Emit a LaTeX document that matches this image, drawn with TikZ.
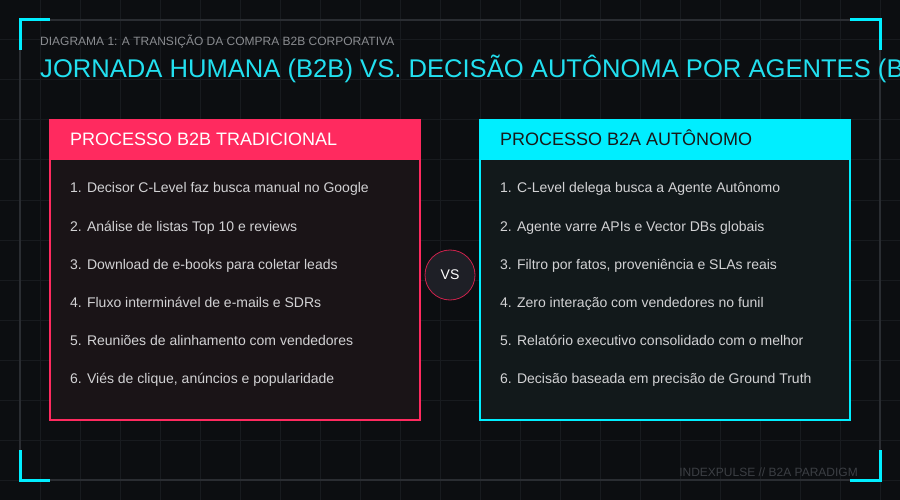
\documentclass[tikz,border=0pt]{standalone}
\usepackage{fontspec}
\setmainfont{Liberation Sans}
\usetikzlibrary{positioning}
\definecolor{bgdark}{HTML}{0C0E11}
\definecolor{gridgray}{HTML}{181B1F}
\definecolor{framegray}{HTML}{2A2D32}
\definecolor{neoncyan}{HTML}{00EEFF}
\definecolor{titlecyan}{HTML}{22E0F0}
\definecolor{neonpink}{HTML}{FF2A5F}
\definecolor{pinkbody}{HTML}{1A1417}
\definecolor{cyanbody}{HTML}{12191B}
\definecolor{itemgray}{HTML}{D2D2D4}
\definecolor{subgray}{HTML}{8A8C90}
\definecolor{footgray}{HTML}{3C3F44}
\definecolor{vsfill}{HTML}{1E1F26}

\begin{document}
\begin{tikzpicture}
[x=1pt,y=-1pt,
 item/.style={anchor=base west,inner sep=0pt,text=itemgray,font=\fontsize{14}{16}\selectfont},
 bodybox/.style={rectangle,minimum width=370pt,minimum height=300pt,line width=2pt,inner sep=0pt},
 headbox/.style={rectangle,minimum width=370pt,minimum height=40pt,inner sep=0pt},
 headtext/.style={anchor=base west,inner sep=0pt,font=\fontsize{18}{20}\selectfont},
 bracket/.style={neoncyan,line width=3pt}]
\useasboundingbox (0,0) rectangle (900,500);
\fill[bgdark] (0,0) rectangle (900,500);

% grid
\foreach \gx in {40,80,...,880} \draw[gridgray,line width=1pt] (\gx,0) -- (\gx,500);
\foreach \gy in {40,80,...,480} \draw[gridgray,line width=1pt] (0,\gy) -- (900,\gy);

% frame and corners
\draw[framegray,line width=1.2pt] (20,20) rectangle (880,480);
\draw[bracket] (20,50) -- (20,20) -- (50,20);
\draw[bracket] (850,20) -- (880,20) -- (880,50);
\draw[bracket] (20,450) -- (20,480) -- (50,480);
\draw[bracket] (850,480) -- (880,480) -- (880,450);

% titles
\node[anchor=base west,inner sep=0pt,text=subgray,font=\fontsize{12}{14}\selectfont] (subtitle) at (40,46) {DIAGRAMA 1: A TRANSIÇÃO DA COMPRA B2B CORPORATIVA};
\node[anchor=base west,inner sep=0pt,text=titlecyan,font=\fontsize{25.6}{28}\selectfont] (title) at (40,78) {JORNADA HUMANA (B2B) VS. DECISÃO AUTÔNOMA POR AGENTES (B2A)};

% left box
\node[bodybox,fill=pinkbody,draw=neonpink] (tradbox) at (235,270) {};
\node[headbox,fill=neonpink] (tradhead) at (235,140) {};
\node[headtext,text=white] (tradtitle) at (70,146) {PROCESSO B2B TRADICIONAL};
\node[item] (l1) at (70,193) {1. Decisor C-Level faz busca manual no Google};
\node[item] (l2) at (70,231) {2. Análise de listas Top 10 e reviews};
\node[item] (l3) at (70,269) {3. Download de e-books para coletar leads};
\node[item] (l4) at (70,307) {4. Fluxo interminável de e-mails e SDRs};
\node[item] (l5) at (70,345) {5. Reuniões de alinhamento com vendedores};
\node[item] (l6) at (70,383) {6. Viés de clique, anúncios e popularidade};

% right box
\node[bodybox,fill=cyanbody,draw=neoncyan] (autobox) at (665,270) {};
\node[headbox,fill=neoncyan] (autohead) at (665,140) {};
\node[headtext,text=black!90] (autotitle) at (500,146) {PROCESSO B2A AUTÔNOMO};
\node[item] (r1) at (500,193) {1. C-Level delega busca a Agente Autônomo};
\node[item] (r2) at (500,231) {2. Agente varre APIs e Vector DBs globais};
\node[item] (r3) at (500,269) {3. Filtro por fatos, proveniência e SLAs reais};
\node[item] (r4) at (500,307) {4. Zero interação com vendedores no funil};
\node[item] (r5) at (500,345) {5. Relatório executivo consolidado com o melhor};
\node[item] (r6) at (500,383) {6. Decisão baseada em precisão de Ground Truth};

% versus badge
\node[circle,minimum size=50pt,inner sep=0pt,fill=vsfill,draw=neonpink!80!black,line width=0.8pt,text=white,font=\fontsize{14}{16}\selectfont] (vs) at (450,275) {VS};

% footer
\node[anchor=base east,inner sep=0pt,text=footgray,font=\fontsize{12}{14}\selectfont] (footer) at (858,476) {INDEXPULSE // B2A PARADIGM};
\end{tikzpicture}
\end{document}
